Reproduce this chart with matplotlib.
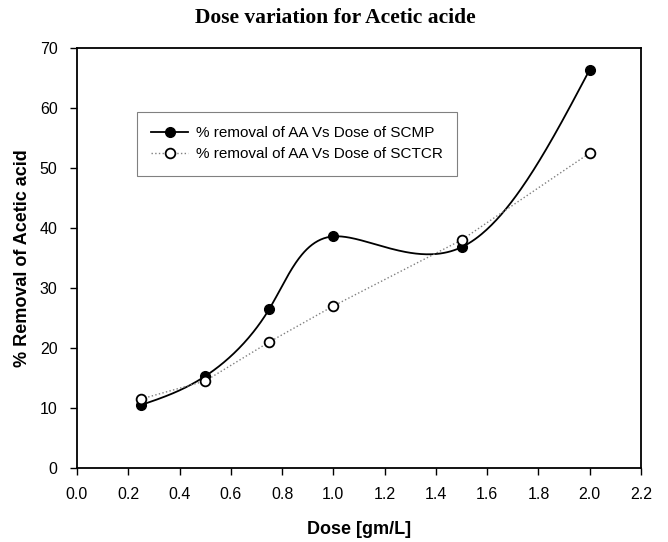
import numpy as np
import matplotlib
matplotlib.use('Agg')
import matplotlib.pyplot as plt

# dose (gm/L) and % removal of acetic acid
dose = [0.25, 0.5, 0.75, 1.0, 1.5, 2.0]
scmp = [10.5, 15.3, 26.5, 38.6, 36.8, 66.4]
sctcr = [11.5, 14.5, 21.0, 27.0, 38.0, 52.5]


def natural_spline(t, y, ts):
    # natural cubic spline of y over knots t, evaluated at ts
    t = np.asarray(t, float)
    y = np.asarray(y, float)
    k = len(t)
    h = np.diff(t)
    A = np.zeros((k, k))
    b = np.zeros(k)
    A[0, 0] = 1
    A[-1, -1] = 1
    for i in range(1, k - 1):
        A[i, i - 1] = h[i - 1]
        A[i, i] = 2 * (h[i - 1] + h[i])
        A[i, i + 1] = h[i]
        b[i] = 3 * ((y[i + 1] - y[i]) / h[i] - (y[i] - y[i - 1]) / h[i - 1])
    c = np.linalg.solve(A, b)
    idx = np.clip(np.searchsorted(t, ts) - 1, 0, k - 2)
    dt = ts - t[idx]
    bb = (y[idx + 1] - y[idx]) / h[idx] - h[idx] * (2 * c[idx] + c[idx + 1]) / 3
    d = (c[idx + 1] - c[idx]) / (3 * h[idx])
    return y[idx] + bb * dt + c[idx] * dt ** 2 + d * dt ** 3


def smooth_curve(x, y, n=400):
    # parametric spline, point index as the parameter
    t = np.arange(len(x), dtype=float)
    ts = np.linspace(0, len(x) - 1, n)
    return natural_spline(t, x, ts), natural_spline(t, y, ts)


plt.rcParams['font.family'] = ['Liberation Sans', 'DejaVu Sans']

fig = plt.figure(figsize=(6.68, 5.42), dpi=100)
ax = fig.add_axes([77 / 668, 74 / 542, 564 / 668, 420 / 542])

xs, ys = smooth_curve(dose, scmp)
ax.plot(xs, ys, color='black', lw=1.3, zorder=2)
ax.plot(dose, scmp, 'o', color='black', ms=7, zorder=3)
ax.plot(dose, sctcr, ':', color='#808080', lw=1.0, zorder=2)
ax.plot(dose, sctcr, 'o', mfc='white', mec='black', mew=1.3, ms=7, zorder=4)

# legend entries
ax.plot([], [], '-o', color='black', ms=7, lw=1.3,
        label='% removal of AA Vs Dose of SCMP')
ax.plot([], [], ':o', color='#808080', mfc='white', mec='black', mew=1.3,
        ms=7, lw=1.0, label='% removal of AA Vs Dose of SCTCR')
leg = ax.legend(loc='upper left', bbox_to_anchor=(0.106, 0.848), fontsize=11,
                frameon=True, fancybox=False, edgecolor='#606060',
                handlelength=2.4, borderpad=0.95, labelspacing=0.45,
                handletextpad=0.5, borderaxespad=0)
leg.get_frame().set_linewidth(0.8)

ax.set_xlim(0, 2.2)
ax.set_ylim(0, 70)
ticks = np.arange(0, 2.21, 0.2)
ax.set_xticks(ticks)
ax.set_xticklabels(['%.1f' % v for v in ticks])
ax.set_yticks(np.arange(0, 71, 10))
ax.tick_params(direction='out', length=5, width=1, labelsize=11.5)
ax.tick_params(axis='x', pad=9)
ax.tick_params(axis='y', pad=9)
for s in ax.spines.values():
    s.set_linewidth(1.3)

ax.set_xlabel('Dose [gm/L]', fontsize=13, fontweight='bold', labelpad=13)
ax.set_ylabel('% Removal of Acetic acid', fontsize=13, fontweight='bold',
              labelpad=6)
fig.text(335 / 668, 1 - 18 / 542, 'Dose variation for Acetic acide',
         family=['Liberation Serif', 'DejaVu Serif'], fontsize=15.5,
         fontweight='bold', ha='center', va='center')

fig.savefig('out.png', dpi=100)
